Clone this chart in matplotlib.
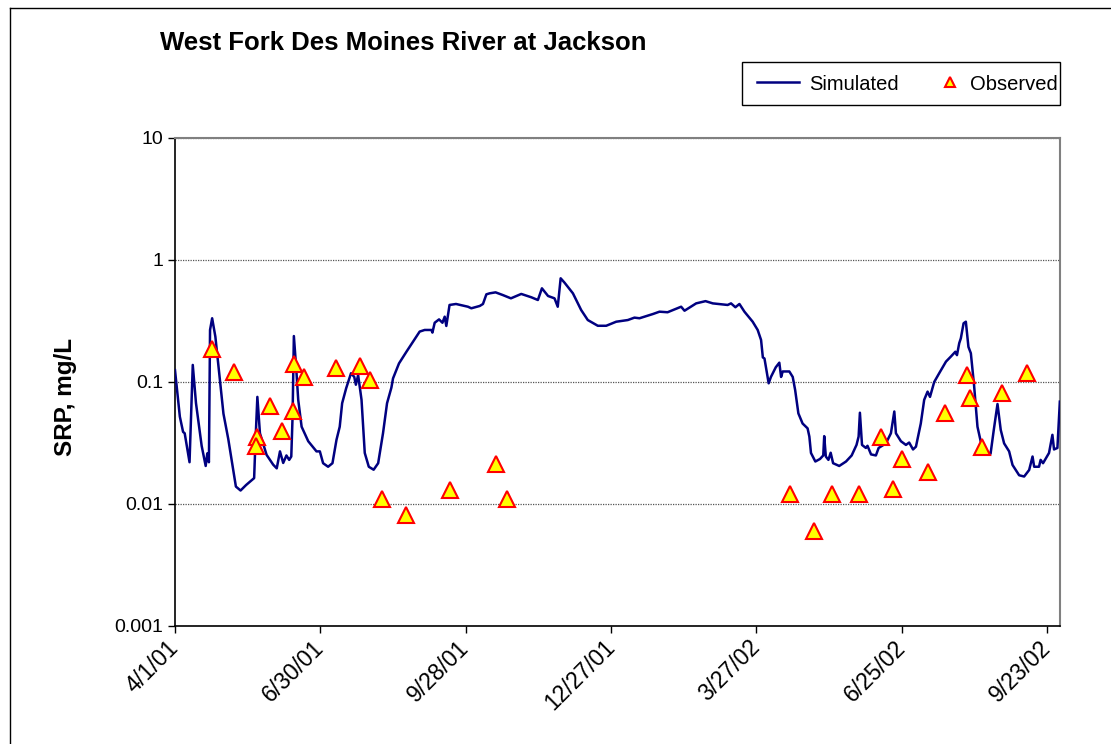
import numpy as np
import pandas as pd
import matplotlib
matplotlib.use("Agg")
import matplotlib.pyplot as plt
from matplotlib.lines import Line2D
from matplotlib.patches import Rectangle

plt.rcParams["font.family"] = ["Liberation Sans", "DejaVu Sans"]

# -- data --#
start = pd.Timestamp("2001-04-01")

# simulated SRP (days since 4/1/01, mg/L)
sim_day = [0, 3, 5, 6, 9, 11, 13, 16.5, 19, 20, 21, 21.7, 23, 25, 30, 33, 37.7, 40.6, 44, 49,
           49.7, 51, 52.6, 56.7, 60.8, 63, 65, 67, 69, 70.7, 72, 72.8, 73.6, 75, 76.3, 78.4,
           82.5, 87.6, 89.7, 91.7, 94.8, 97.5, 100, 102, 103.5, 106, 109, 111, 112, 113.4,
           115.5, 117.5, 120, 123, 125.8, 128.8, 131.3, 134, 135, 138.7, 143.3, 147.4, 151.5,
           154.6, 158.8, 159.4, 160.8, 163.5, 165.6, 167, 168, 170, 174, 181.4, 183.5, 188.7,
           190.7, 192.8, 194.8, 198.5, 203, 208, 214.4, 220.6, 224.7, 227.2, 231, 235, 237,
           238.8, 241.2, 246.4, 251.5, 255.6, 261.8, 267, 273.2, 280.4, 284.5, 287.6, 296,
           300, 305, 313.4, 315.5, 322.7, 328.5, 333, 342.2, 344.3, 347, 349.5, 352.6, 357.7,
           360.8, 362.9, 364, 365, 367.6, 369, 372, 374.2, 375.3, 376.3, 380.4, 382.5, 384,
           386, 388.6, 391.7, 392.8, 393.8, 396.5, 399.4, 401.4, 402, 403, 404.6, 406, 407.5,
           411.3, 415.5, 419, 422, 423.3, 424.1, 425.4, 427.8, 428.8, 431, 434, 435.7, 440.2,
           443.3, 445.4, 446.4, 449.5, 452.6, 454.6, 457, 458.8, 461.8, 463.9, 466, 467.5,
           470.1, 473.2, 477.4, 480.5, 483.2, 484.2, 485.6, 486.6, 488.3, 489.7, 491.3, 492.8,
           494.8, 496.9, 500, 505, 507, 509.3, 511.3, 513.4, 516.5, 518.6, 522.7, 525.8,
           528.9, 531, 532, 535, 536, 537.5, 541.2, 543.3, 544.3, 546.4, 547.9]
sim_val = [0.125, 0.052, 0.039, 0.038, 0.022, 0.138, 0.067, 0.030, 0.0205, 0.026, 0.022, 0.267,
           0.333, 0.235, 0.055, 0.034, 0.0139, 0.0129, 0.0143, 0.0163, 0.0295, 0.0755, 0.038,
           0.0253, 0.021, 0.0196, 0.027, 0.0217, 0.025, 0.023, 0.0245, 0.052, 0.238, 0.133,
           0.0714, 0.043, 0.0327, 0.027, 0.027, 0.0216, 0.0202, 0.0216, 0.0336, 0.043, 0.067,
           0.089, 0.118, 0.11, 0.095, 0.114, 0.0714, 0.0262, 0.0202, 0.0191, 0.0216, 0.038,
           0.067, 0.09, 0.107, 0.142, 0.177, 0.214, 0.259, 0.267, 0.267, 0.254, 0.306, 0.326,
           0.306, 0.343, 0.288, 0.428, 0.436, 0.414, 0.402, 0.42, 0.436, 0.523, 0.533, 0.543,
           0.516, 0.485, 0.527, 0.495, 0.47, 0.586, 0.507, 0.485, 0.414, 0.708, 0.652, 0.533,
           0.389, 0.322, 0.289, 0.289, 0.312, 0.322, 0.337, 0.333, 0.361, 0.377, 0.373, 0.414,
           0.384, 0.441, 0.46, 0.441, 0.428, 0.441, 0.41, 0.436, 0.377, 0.312, 0.267, 0.221,
           0.159, 0.156, 0.0976, 0.11, 0.132, 0.144, 0.11, 0.122, 0.122, 0.11, 0.086, 0.0553,
           0.0457, 0.0417, 0.0357, 0.0262, 0.0223, 0.0234, 0.025, 0.036, 0.0245, 0.023, 0.0263,
           0.0216, 0.0205, 0.0223, 0.025, 0.0305, 0.0357, 0.056, 0.0305, 0.0288, 0.030, 0.0255,
           0.025, 0.0288, 0.0314, 0.038, 0.0573, 0.038, 0.0327, 0.0305, 0.0319, 0.028, 0.0295,
           0.0457, 0.0714, 0.0834, 0.0755, 0.10, 0.118, 0.147, 0.162, 0.177, 0.166, 0.208,
           0.228, 0.303, 0.312, 0.194, 0.172, 0.0936, 0.043, 0.028, 0.0258, 0.0405, 0.066,
           0.0405, 0.0314, 0.027, 0.0209, 0.0172, 0.0168, 0.019, 0.0245, 0.0202, 0.0202, 0.023,
           0.0216, 0.0262, 0.0369, 0.028, 0.0288, 0.069]

# observed SRP samples
obs_day = [22.9, 36.5, 50.7, 50, 58.8, 66.2, 73.6, 73, 79.8, 99.6, 114.4, 120.6, 128, 142.9,
           170, 198.6, 205.4, 381, 395.9, 407, 423.7, 437.3, 444.7, 450.3, 466.4, 476.9,
           490.5, 492.4, 499.8, 512.2, 527.6]
obs_val = [0.186, 0.121, 0.0355, 0.030, 0.0636, 0.0397, 0.141, 0.058, 0.11, 0.13, 0.135, 0.104,
           0.011, 0.0081, 0.013, 0.0213, 0.011, 0.0121, 0.0060, 0.0121, 0.0121, 0.0355, 0.0132,
           0.0235, 0.0183, 0.0558, 0.114, 0.0739, 0.0294, 0.0814, 0.118]

tick_labels = ["4/1/01", "6/30/01", "9/28/01", "12/27/01", "3/27/02", "6/25/02", "9/23/02"]
y_ticks = [0.001, 0.01, 0.1, 1, 10]
y_tick_labels = ["0.001", "0.01", "0.1", "1", "10"]

sim_dates = start + pd.to_timedelta(sim_day, unit="D")
obs_dates = start + pd.to_timedelta(obs_day, unit="D")
tick_dates = pd.to_datetime(tick_labels, format="%m/%d/%y")

# -- plot --#
fig = plt.figure(figsize=(11.11, 7.44), dpi=100)
ax = fig.add_axes([175 / 1111, 1 - 626 / 744, (1060 - 175) / 1111, (626 - 138) / 744])

ax.plot(sim_dates, sim_val, color="#000080", lw=1.8, zorder=3)
ax.plot(obs_dates, obs_val, ls="none", marker="^", ms=11, mfc="#FFFF00", mec="#FF0000",
        mew=1.5, zorder=4)

ax.set_yscale("log")
ax.set_ylim(0.001, 10)
ax.set_xlim(start, pd.Timestamp("2002-10-01"))
ax.set_yticks(y_ticks)
ax.set_yticklabels(y_tick_labels, fontsize=14)
ax.yaxis.set_minor_locator(matplotlib.ticker.NullLocator())
ax.set_xticks(tick_dates)
ax.set_xticklabels(tick_labels, fontsize=16.5, rotation=45, ha="right", va="center",
                   rotation_mode="anchor")
ax.tick_params(axis="both", direction="out", length=5, width=1, color="black")
ax.tick_params(axis="x", pad=8)

ax.yaxis.grid(True, which="major", color="#555555", linestyle=(0, (1, 1)), lw=0.9)
ax.set_axisbelow(True)

for side in ["top", "right"]:
    ax.spines[side].set_color("#808080")
    ax.spines[side].set_linewidth(1.5)
for side in ["left", "bottom"]:
    ax.spines[side].set_color("black")
    ax.spines[side].set_linewidth(1.2)

ax.set_ylabel("SRP, mg/L", fontsize=17.5, fontweight="bold")
ax.yaxis.set_label_coords((77 - 175) / 885, (626 - 397) / 488)

fig.text(160 / 1111, 1 - 43 / 744, "West Fork Des Moines River at Jackson", fontsize=18.5,
         fontweight="bold", ha="left", va="center")

# 圖例 (兩個項目分開放，以對齊位置)
sim_handle = Line2D([], [], color="#000080", lw=1.8)
obs_handle = Line2D([], [], ls="none", marker="^", ms=7, mfc="#FFFF00", mec="#FF0000", mew=1.5)
fig.legend([sim_handle], ["Simulated"], loc="center left",
           bbox_to_anchor=(757 / 1111, 1 - 84 / 744), fontsize=14.5, frameon=False,
           borderpad=0, borderaxespad=0, handlelength=2.1, handletextpad=0.5)
fig.legend([obs_handle], ["Observed"], loc="center left",
           bbox_to_anchor=(940 / 1111, 1 - 84 / 744), fontsize=14.5, frameon=False,
           borderpad=0, borderaxespad=0, handlelength=1.0, handletextpad=0.5)
fig.add_artist(Rectangle((742 / 1111, 1 - 105 / 744), (1060 - 742) / 1111, 43 / 744,
                         transform=fig.transFigure, fill=False, edgecolor="black", lw=1.0))

# 外框
fig.add_artist(Line2D([10 / 1111, 10 / 1111], [0, 1 - 8 / 744], color="black", lw=1,
                      transform=fig.transFigure))
fig.add_artist(Line2D([10 / 1111, 1], [1 - 8 / 744, 1 - 8 / 744], color="black", lw=1,
                      transform=fig.transFigure))

fig.savefig("out.png", dpi=100)
